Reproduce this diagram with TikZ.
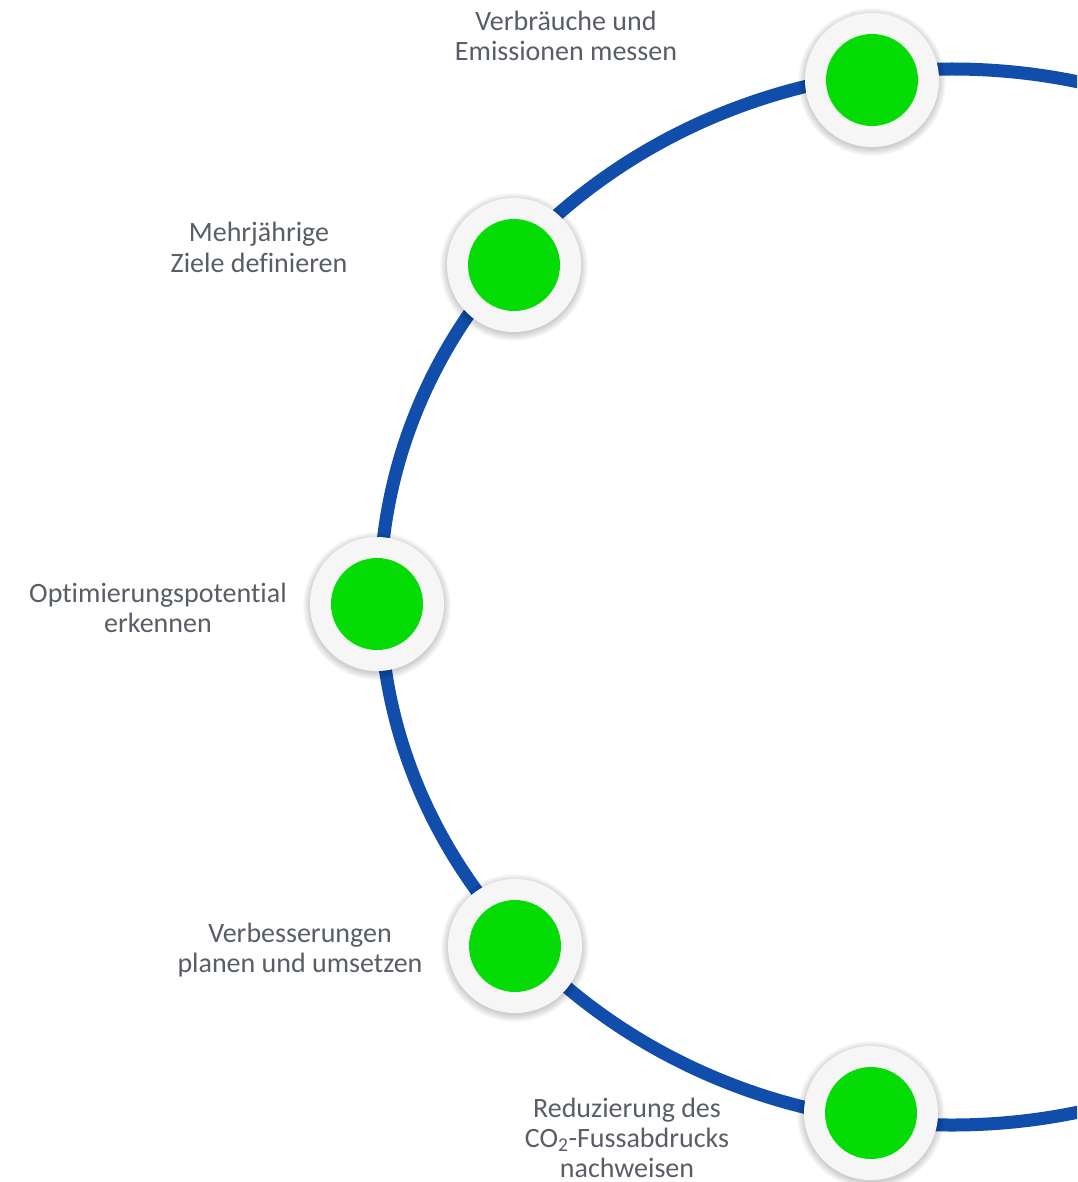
\documentclass[tikz,border=0pt]{standalone}
\usepackage{fontspec}
\setmainfont{Carlito}[Ligatures=NoCommon]
\definecolor{arcblue}{RGB}{17,77,170}
\definecolor{stepgreen}{RGB}{5,219,5}
\definecolor{ringgray}{RGB}{246,246,246}
\definecolor{labelgray}{RGB}{89,93,101}
\tikzset{
    ring/.style={circle, fill=ringgray, minimum size=134pt, inner sep=0pt},
    dot/.style={circle, fill=stepgreen, minimum size=92pt, inner sep=0pt},
    steplabel/.style={align=center, text=labelgray, font=\fontsize{28}{30}\selectfont, anchor=base, inner sep=0pt}
}

\begin{document}
\begin{tikzpicture}[x=1pt, y=-1pt]
    \clip (0,0) rectangle (1077,1182);
    \fill[white] (0,0) rectangle (1077,1182);
    \coordinate (mid) at (952,597);
    \draw[arcblue, line width=13pt] (mid) ellipse [x radius=572, y radius=528];
    \foreach[count=\i] \px/\py in {872/80, 514/265, 377/604, 515/946, 871/1113} {
        \foreach \k in {1,...,8}
            \fill[black, opacity=0.025] (\px,\py+2) circle (66+\k);
        \node[ring] (n-\i) at (\px,\py) {};
        \node[dot] (g-\i) at (n-\i) {};
    }
    % base anchor sits on the last line
    \foreach[count=\i] \lx/\ly/\ltext in {566/61/{Verbräuche und\\Emissionen messen},
            259/272/{Mehrjährige\\Ziele definieren},
            158/632/{Optimierungspotential\\erkennen},
            300/972/{Verbesserungen\\planen und umsetzen},
            627/1177/{Reduzierung des\\CO\textsubscript{2}-Fussabdrucks\\nachweisen}} {
        \node[steplabel] (l-\i) at (\lx,\ly) {\ltext};
    }
\end{tikzpicture}
\end{document}
